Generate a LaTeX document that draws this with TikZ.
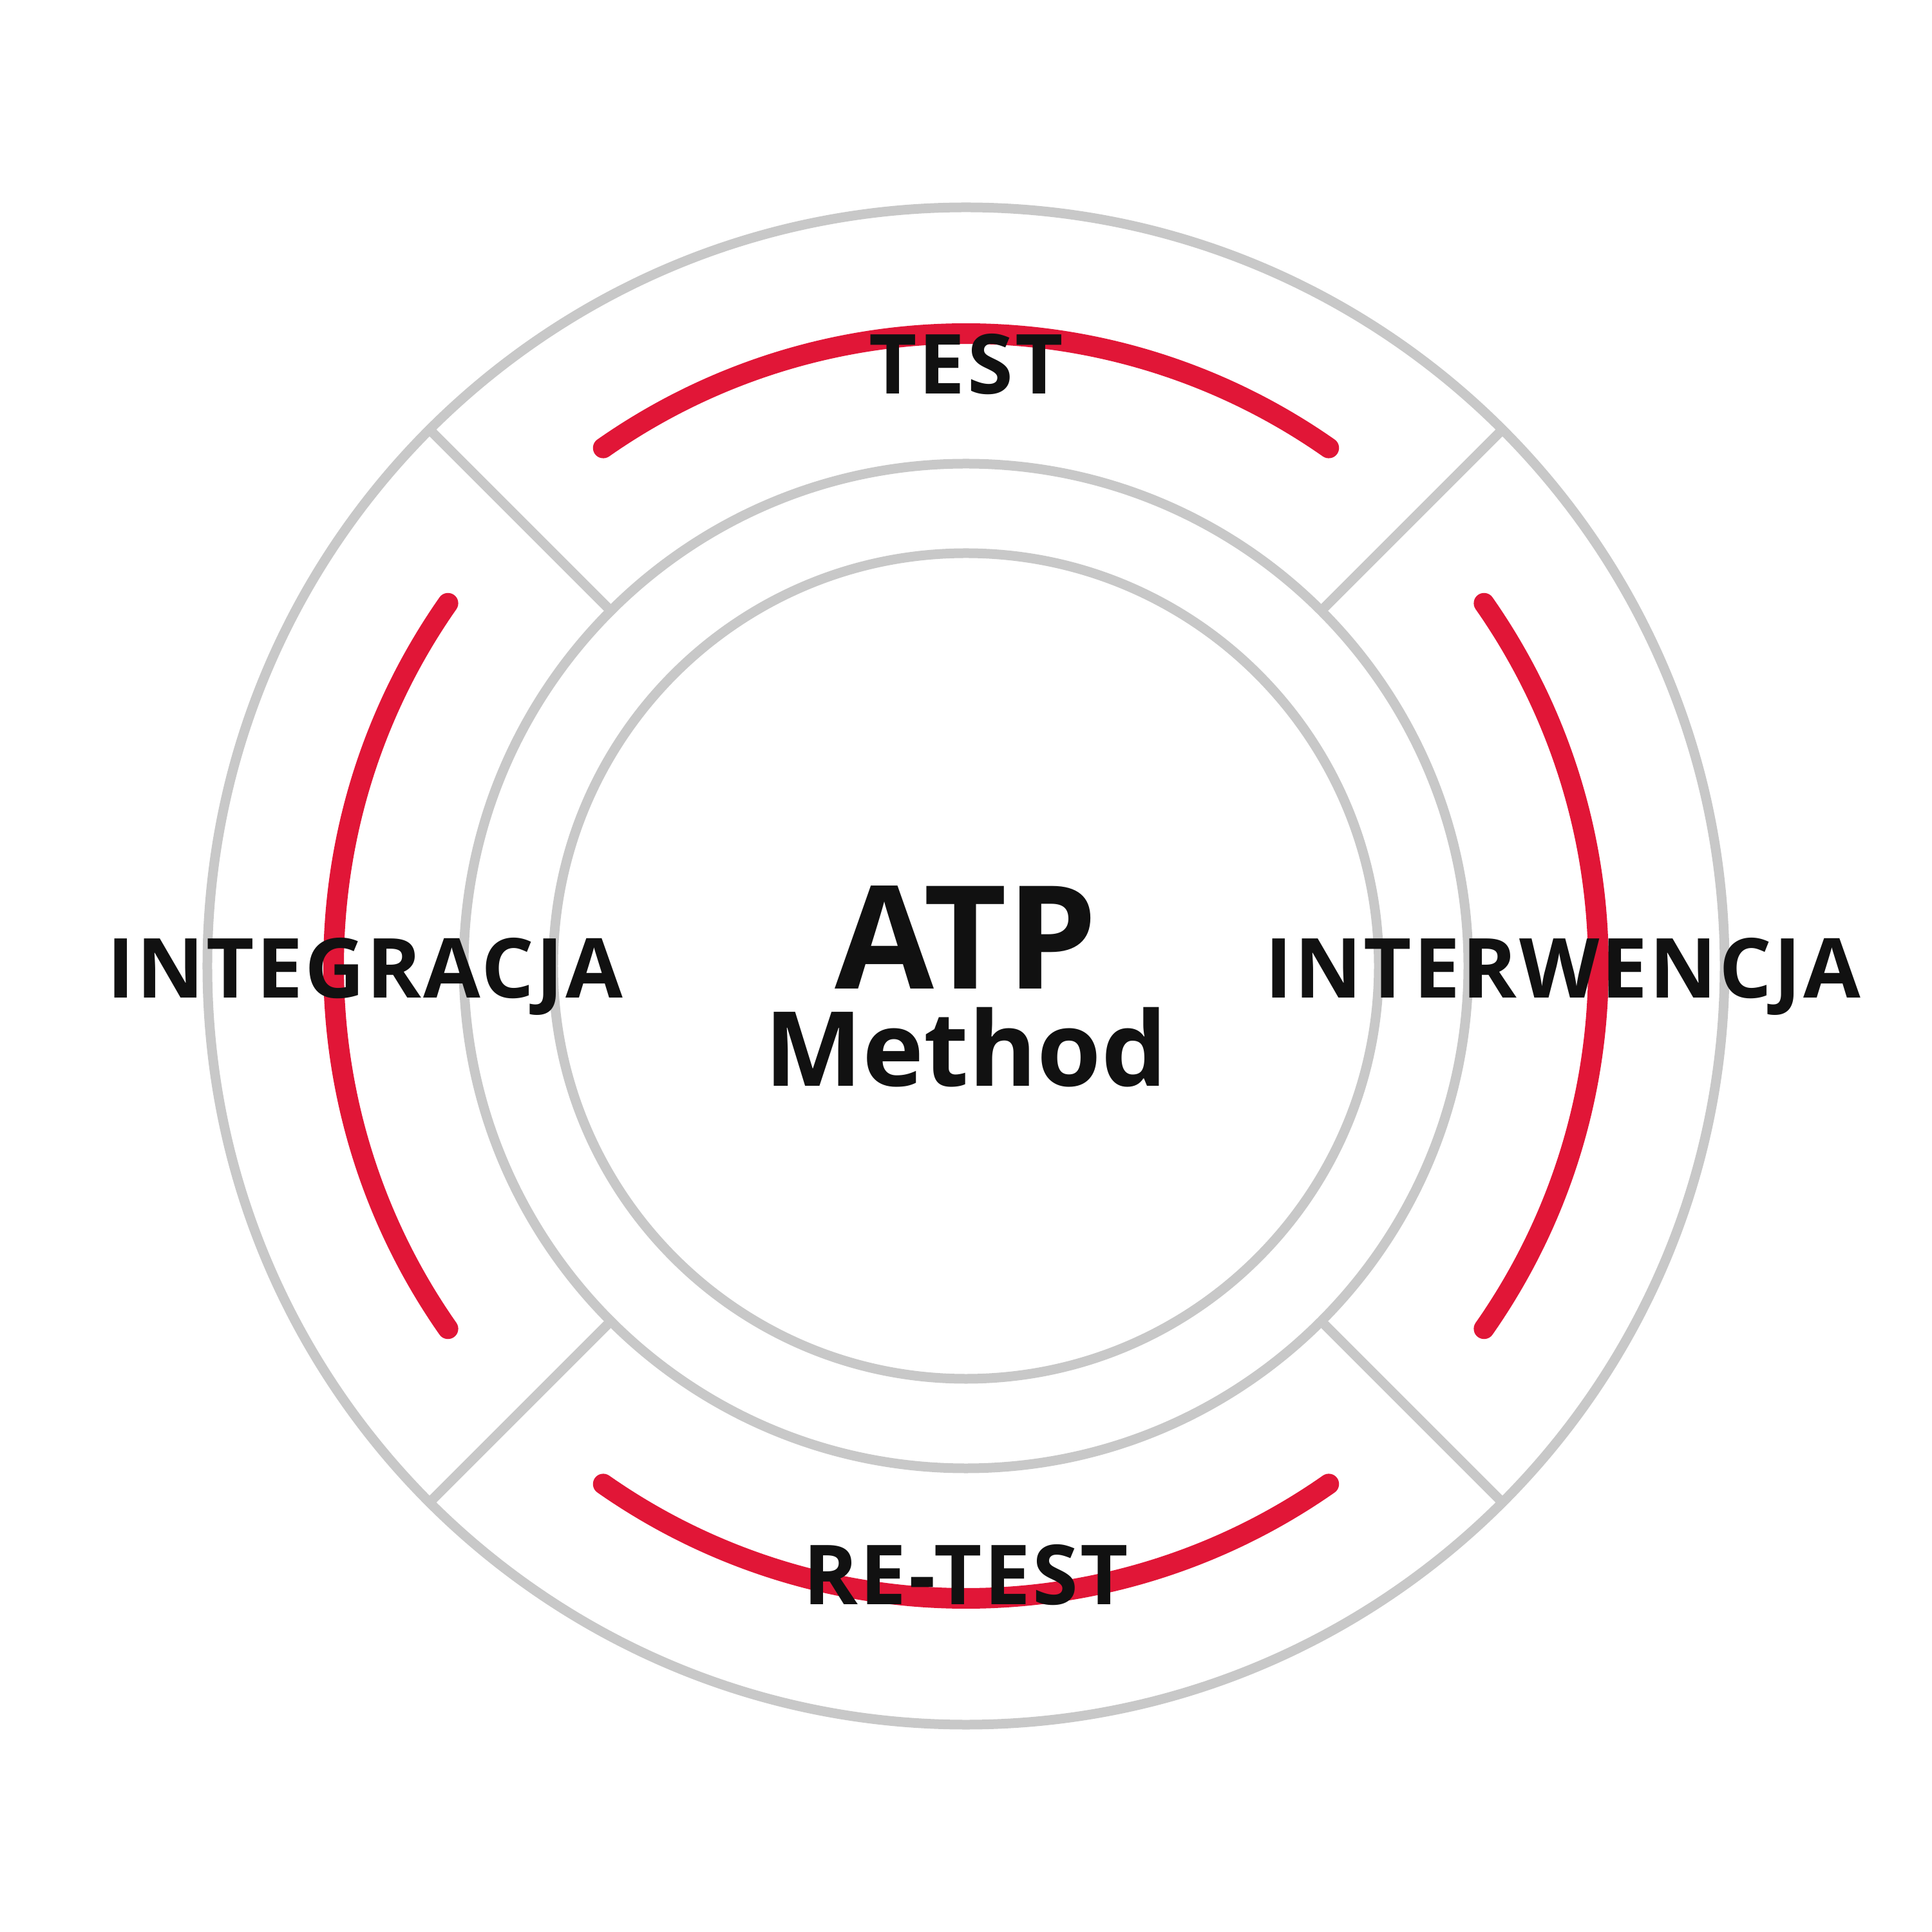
\documentclass[tikz,border=0pt]{standalone}
\usepackage{fontspec}
\setmainfont{Open Sans}
\usepackage{tikz}
\usetikzlibrary{positioning}
\definecolor{ringgray}{HTML}{C8C8C8}
\definecolor{arcred}{HTML}{E11637}
\definecolor{inkblack}{HTML}{111111}
\tikzset{
  ring/.style={draw=ringgray, line width=0.15cm},
  phase/.style={draw=arcred, line width=0.32cm, line cap=round},
  phaselabel/.style={anchor=base, inner sep=0pt, text=inkblack,
    font=\fontsize{36.6}{40}\selectfont\bfseries\addfontfeatures{LetterSpace=2.5}},
}

\begin{document}
\begin{tikzpicture}
  \useasboundingbox (-15,-15) rectangle (15,15);
  % Rings
  \draw[ring] (0,0) circle (11.78);
  \draw[ring] (0,0) circle (7.80);
  \draw[ring] (0,0) circle (6.41);
  % Spokes between outer and middle ring
  \draw[ring] (45:7.80) -- (45:11.78);
  \draw[ring] (135:7.80) -- (135:11.78);
  \draw[ring] (225:7.80) -- (225:11.78);
  \draw[ring] (315:7.80) -- (315:11.78);
  % Red phase arcs
  \draw[phase] (55:9.82) arc (55:125:9.82);
  \draw[phase] (145:9.82) arc (145:215:9.82);
  \draw[phase] (235:9.82) arc (235:305:9.82);
  \draw[phase] (-35:9.82) arc (-35:35:9.82);
  % Phase labels
  \node[phaselabel] (test) at (0,8.88) {TEST};
  \node[phaselabel] (integracja) at (-9.33,-0.50) {INTEGRACJA};
  \node[phaselabel] (interwencja) at (9.27,-0.50) {INTERWENCJA};
  \node[phaselabel] (retest) at (0,-9.91) {RE-TEST};
  % Centre title
  \node[anchor=base, inner sep=0pt, text=inkblack,
    font=\fontsize{63.5}{66}\selectfont\bfseries] (atp) at (0,-0.36) {ATP};
  \node[anchor=base, inner sep=0pt, text=inkblack,
    font=\fontsize{45.8}{50}\selectfont\bfseries] (method) at (0,-1.87) {Method};
\end{tikzpicture}
\end{document}
